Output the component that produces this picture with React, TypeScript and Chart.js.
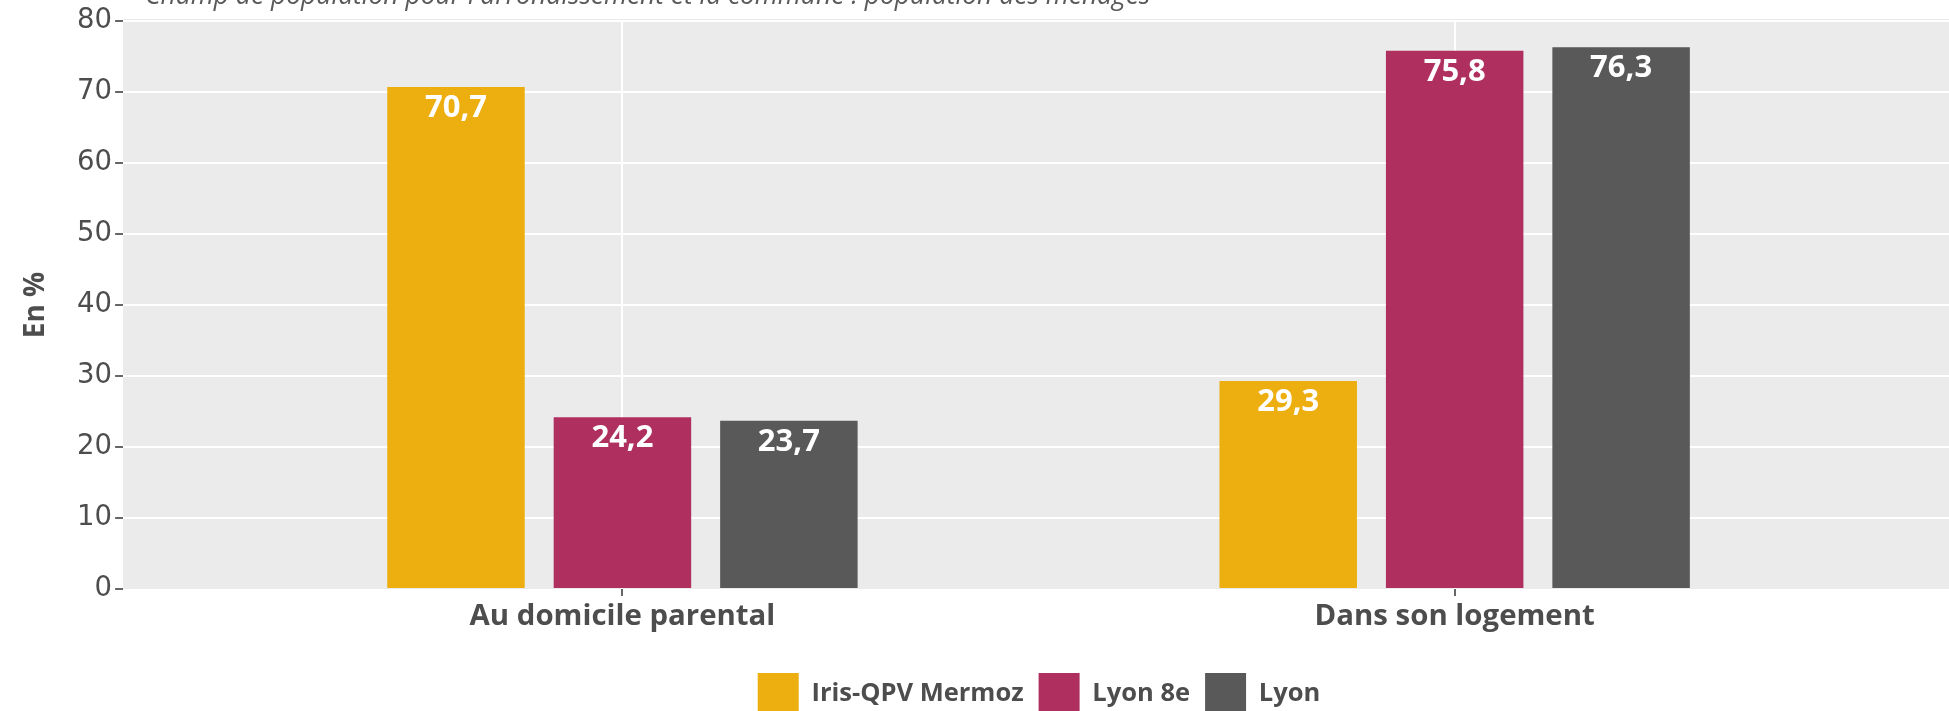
import React, { useEffect, useRef } from 'react';
import { Chart, registerables } from 'chart.js';

Chart.register(...registerables);

const categories = ['Au domicile parental', 'Dans son logement'];
const seriesNames = ['Iris-QPV Mermoz', 'Lyon 8e', 'Lyon'];
const irisValues = [70.7, 29.3];
const lyon8Values = [24.2, 75.8];
const lyonValues = [23.7, 76.3];
const seriesColors = ['#EDAE10', '#AF2F5E', '#595959'];
const yTickValues = [0, 10, 20, 30, 40, 50, 60, 70, 80];
const yTitle = 'En %';
const subtitle = "Champ de population pour l'arrondissement et la commune : population des ménages";

const TEXT = '#4D4D4D';

export default function App() {
  const ref = useRef<HTMLCanvasElement>(null);

  useEffect(() => {
    const canvas = ref.current;
    if (!canvas) return;

    const panelBg = {
      id: 'panelBg',
      beforeDraw(chart: any) {
        const { ctx, chartArea: a } = chart;
        ctx.save();
        ctx.fillStyle = '#EBEBEB';
        ctx.fillRect(a.left, a.top - 2, a.right - a.left, a.bottom - a.top + 2);
        ctx.restore();
      },
    };

    const valueLabels = {
      id: 'valueLabels',
      afterDatasetsDraw(chart: any) {
        const { ctx } = chart;
        ctx.save();
        ctx.font = 'bold 31px "Open Sans"';
        ctx.fillStyle = '#FFFFFF';
        ctx.textAlign = 'center';
        ctx.textBaseline = 'alphabetic';
        chart.data.datasets.forEach((ds: any, di: number) => {
          const meta = chart.getDatasetMeta(di);
          meta.data.forEach((bar: any, i: number) => {
            const v = ds.data[i] as number;
            ctx.fillText(v.toFixed(1).replace('.', ','), bar.x, bar.y + 30);
          });
        });
        ctx.restore();
      },
    };

    const subtitlePlugin = {
      id: 'subtitleCut',
      afterDraw(chart: any) {
        const { ctx } = chart;
        ctx.save();
        ctx.font = 'italic 26.4px "Open Sans"';
        ctx.fillStyle = '#5A5A5A';
        ctx.textAlign = 'left';
        ctx.textBaseline = 'alphabetic';
        ctx.fillText(subtitle, 145, 4);
        ctx.restore();
      },
    };

    const chart = new Chart(canvas, {
      type: 'bar',
      data: {
        labels: categories,
        datasets: [
          { label: seriesNames[0], data: irisValues, backgroundColor: seriesColors[0] },
          { label: seriesNames[1], data: lyon8Values, backgroundColor: seriesColors[1] },
          { label: seriesNames[2], data: lyonValues, backgroundColor: seriesColors[2] },
        ],
      },
      options: {
        responsive: false,
        animation: false,
        devicePixelRatio: 1,
        layout: { padding: { left: 0, right: 0, top: 21, bottom: 0 } },
        datasets: {
          bar: { categoryPercentage: 0.6, barPercentage: 0.826 },
        },
        plugins: {
          tooltip: { enabled: false },
          legend: {
            position: 'bottom',
            labels: {
              boxWidth: 41,
              boxHeight: 41,
              padding: 15,
              color: TEXT,
              font: { family: '"Open Sans"', size: 25.5, weight: 'bold' },
            },
          },
        },
        scales: {
          x: {
            type: 'category',
            offset: true,
            afterBuildTicks: (scale: any) => {
              scale._startValue = -0.6;
              scale._valueRange = 2.2;
            },
            grid: {
              offset: false,
              color: '#FFFFFF',
              lineWidth: 2,
              tickLength: 7,
              tickColor: '#333333',
              tickWidth: 1.5,
            },
            border: { display: false },
            ticks: {
              color: TEXT,
              padding: 2.5,
              font: { family: '"Open Sans"', size: 29.4, weight: 'bold', lineHeight: 1.2 },
            },
            title: {
              display: true,
              text: ' ',
              color: 'rgba(0,0,0,0)',
              font: { size: 10, lineHeight: 1 },
              padding: { top: 0, bottom: 11.7 },
            },
          },
          y: {
            min: 0,
            max: 80,
            afterBuildTicks: (scale: any) => {
              const ticks: any[] = [];
              yTickValues.forEach((v, i) => {
                ticks.push({ value: v });
                if (i < yTickValues.length - 1) ticks.push({ value: v + 5 });
              });
              scale.ticks = ticks;
            },
            ticks: {
              color: TEXT,
              padding: 3,
              font: { family: '"DejaVu Sans"', size: 27.5 },
              callback: (v: any) => (yTickValues.includes(Number(v)) ? String(v) : ''),
            },
            grid: {
              color: (c: any) => (c.tick && c.tick.value === 0 ? 'rgba(0,0,0,0)' : '#FFFFFF'),
              lineWidth: (c: any) => (c.tick && c.tick.value % 10 === 0 ? 2 : 1.5),
              tickLength: 8,
              tickWidth: 1.5,
              tickColor: (c: any) =>
                c.tick && yTickValues.includes(c.tick.value) ? '#333333' : 'rgba(0,0,0,0)',
            },
            border: { display: false },
            title: {
              display: true,
              text: yTitle,
              color: TEXT,
              font: { family: '"Open Sans"', size: 28, weight: 'bold', lineHeight: 1.2 },
              padding: { top: 19, bottom: 21.5 },
            },
          },
          yRightSpace: {
            type: 'linear',
            position: 'right',
            display: true,
            grid: { display: false, drawTicks: false },
            ticks: { display: false },
            border: { display: false },
            afterFit: (scale: any) => {
              scale.width = 124;
            },
          },
        },
      },
      plugins: [panelBg, valueLabels, subtitlePlugin],
    } as any);

    return () => chart.destroy();
  }, []);

  return (
    <div
      style={{
        position: 'fixed',
        left: 0,
        top: 0,
        width: 1949,
        height: 711,
        overflow: 'hidden',
        background: '#FFFFFF',
      }}
    >
      <canvas ref={ref} width={2078} height={724} style={{ display: 'block' }} />
    </div>
  );
}
